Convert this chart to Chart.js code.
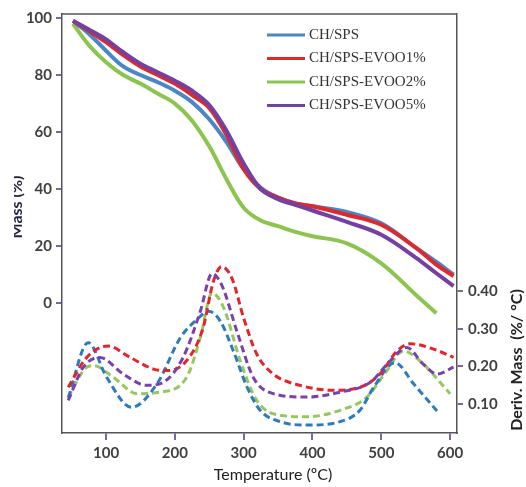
<!DOCTYPE html>
<html>
<head>
<meta charset="utf-8">
<script src="https://cdn.jsdelivr.net/npm/chart.js@4"></script>
<style>
  body { margin: 0; background: #fff; }
</style>
</head>
<body>
<canvas id="tga" width="526" height="487" style="width:526px;height:487px"></canvas>
<script>
// TGA (mass %) curves, read on a common temperature grid
const massTemps = [52, 75, 100, 125, 150, 175, 200, 225, 250, 275, 300, 325, 350, 375, 400, 450, 500, 550, 580, 605];
const massChSps  = [99, 94.5, 88.5, 83, 80, 77.5, 74.5, 70.5, 64.5, 56.5, 47, 40.5, 37, 35, 34, 32, 28, 19.5, 14.5, 10];
const massEvoo1  = [99, 95.5, 91.5, 87, 83, 80, 77, 73, 68.5, 59, 47, 40, 37, 35, 34, 31, 27.5, 19.5, 13.5, 9.5];
const massEvoo2  = [98, 90.5, 84.5, 80, 77, 73.5, 70, 64, 55, 43.5, 33.5, 29, 27, 25, 23.5, 21, 14, 3, -3.5, null];
const massEvoo5  = [99, 96, 92.5, 88, 84, 81, 78, 74.5, 69.5, 60.5, 49, 40, 36.5, 34.5, 32.5, 28.5, 24, 16, 10.5, 6];

// DTG (deriv. mass %/°C) curves
const dtgTempChSps = [45, 74, 101, 137, 174, 208, 232, 249, 266, 285, 305, 324, 353, 392, 440, 469, 489, 520, 547, 581];
const dtgChSps     = [0.117, 0.263, 0.171, 0.092, 0.154, 0.276, 0.324, 0.346, 0.32, 0.241, 0.145, 0.084, 0.054, 0.045, 0.054, 0.084, 0.145, 0.21, 0.154, 0.082];
const dtgTempEvoo1 = [45, 72, 103, 135, 169, 188, 217, 241, 256, 268, 283, 300, 319, 343, 382, 430, 469, 498, 523, 542, 576, 605];
const dtgEvoo1     = [0.145, 0.224, 0.254, 0.224, 0.193, 0.189, 0.215, 0.302, 0.425, 0.464, 0.433, 0.328, 0.233, 0.18, 0.15, 0.137, 0.145, 0.18, 0.241, 0.26, 0.246, 0.224];
const dtgTempEvoo2 = [45, 72, 82, 111, 145, 178, 217, 237, 254, 271, 295, 319, 353, 392, 440, 479, 508, 532, 556, 600];
const dtgEvoo2     = [0.119, 0.198, 0.202, 0.171, 0.128, 0.132, 0.171, 0.276, 0.394, 0.355, 0.215, 0.11, 0.071, 0.067, 0.084, 0.119, 0.189, 0.241, 0.215, 0.128];
const dtgTempEvoo5 = [45, 67, 91, 125, 159, 183, 212, 237, 254, 268, 290, 314, 343, 392, 440, 484, 513, 537, 561, 581, 605];
const dtgEvoo5     = [0.11, 0.198, 0.224, 0.18, 0.15, 0.158, 0.224, 0.346, 0.446, 0.416, 0.294, 0.171, 0.128, 0.119, 0.132, 0.158, 0.215, 0.25, 0.206, 0.18, 0.198];

const tempTicks = [100, 200, 300, 400, 500, 600];
const massTicks = [0, 20, 40, 60, 80, 100];
const derivTicks = [0.1, 0.2, 0.3, 0.4];

const names = ['CH/SPS', 'CH/SPS-EVOO1%', 'CH/SPS-EVOO2%', 'CH/SPS-EVOO5%'];
const massColors = ['#4a86c8', '#dc2a2e', '#8cc450', '#7241a3'];
const dtgColors = ['#2b7bbf', '#e5232b', '#95c85c', '#7b40b0'];

function pts(xs, ys) {
  return xs.map((x, i) => ({ x: x, y: ys[i] })).filter(p => p.y !== null);
}

const massData = [massChSps, massEvoo1, massEvoo2, massEvoo5];
const dtgData = [[dtgTempChSps, dtgChSps], [dtgTempEvoo1, dtgEvoo1], [dtgTempEvoo2, dtgEvoo2], [dtgTempEvoo5, dtgEvoo5]];
const massOrder = [2, 1, 3, 0];

const datasets = [];
massData.forEach((vals, i) => {
  datasets.push({
    label: names[i],
    data: pts(massTemps, vals),
    yAxisID: 'y',
    borderColor: massColors[i],
    borderWidth: 4,
    pointRadius: 0,
    tension: 0.35,
    order: massOrder[i]
  });
});
dtgData.forEach((d, i) => {
  datasets.push({
    label: names[i] + ' DTG',
    data: pts(d[0], d[1]),
    yAxisID: 'y2',
    borderColor: dtgColors[i],
    borderWidth: 3,
    borderDash: [7, 4],
    pointRadius: 0,
    cubicInterpolationMode: 'monotone',
    order: 4 + massOrder[i]
  });
});

const tickFont = { family: 'Lato', size: 15, weight: 'bold' };
const tickMark = { drawOnChartArea: false, drawTicks: true, tickLength: 6, color: '#8064a2', lineWidth: 2 };
const frame = { display: true, color: '#555', width: 1.5 };

// frame top, axis titles and legend
const extras = {
  id: 'extras',
  afterDraw(chart) {
    const ctx = chart.ctx;
    const a = chart.chartArea;
    ctx.save();
    ctx.strokeStyle = '#555';
    ctx.lineWidth = 1.5;
    ctx.beginPath();
    ctx.moveTo(a.left, a.top);
    ctx.lineTo(a.right, a.top);
    ctx.stroke();

    ctx.fillStyle = '#222';
    ctx.textAlign = 'center';
    ctx.font = '16px Lato';
    ctx.textBaseline = 'middle';
    ctx.fillText('Temperature (\u00baC)', 273, 475);

    ctx.textBaseline = 'alphabetic';
    ctx.font = 'bold 16px Lato';
    ctx.save();
    ctx.translate(522, 360);
    ctx.rotate(-Math.PI / 2);
    ctx.fillText('Deriv. Mass  (%/ \u00b0C)', 0, 0);
    ctx.restore();

    ctx.save();
    ctx.beginPath();
    ctx.rect(14, 0, 50, 487);
    ctx.clip();
    ctx.translate(22, 207);
    ctx.rotate(-Math.PI / 2);
    ctx.fillStyle = '#1f1f3f';
    ctx.fillText('Mass (%)', 0, 0);
    ctx.restore();

    ctx.font = '15px "Liberation Serif"';
    ctx.textAlign = 'left';
    ctx.textBaseline = 'middle';
    names.forEach((n, i) => {
      const y = 35 + i * 23.5;
      ctx.strokeStyle = massColors[i];
      ctx.lineWidth = 3;
      ctx.beginPath();
      ctx.moveTo(267, y);
      ctx.lineTo(305, y);
      ctx.stroke();
      ctx.fillStyle = '#333';
      ctx.fillText(n, 309, y);
    });
    ctx.restore();
  }
};

new Chart(document.getElementById('tga'), {
  type: 'line',
  data: { datasets: datasets },
  options: {
    responsive: false,
    animation: false,
    layout: { padding: { top: 10, left: 0, right: 0, bottom: 0 } },
    plugins: { legend: { display: false }, tooltip: { enabled: false } },
    scales: {
      x: {
        type: 'linear',
        min: 36,
        max: 610,
        afterBuildTicks: s => { s.ticks = tempTicks.map(v => ({ value: v })); },
        afterFit: s => { s.height = 54; },
        grid: Object.assign({}, tickMark, { tickLength: 7 }),
        border: frame,
        ticks: { font: tickFont, color: '#404040', padding: 4 }
      },
      y: {
        position: 'left',
        min: -45.5,
        max: 101.4,
        afterBuildTicks: s => { s.ticks = massTicks.map(v => ({ value: v })); },
        afterFit: s => { s.width = 62; },
        grid: tickMark,
        border: frame,
        ticks: { font: tickFont, color: '#404040', padding: 4 }
      },
      y2: {
        position: 'right',
        min: 0.024,
        max: 1.1323,
        afterBuildTicks: s => { s.ticks = derivTicks.map(v => ({ value: v })); },
        afterFit: s => { s.width = 69; },
        grid: tickMark,
        border: frame,
        ticks: { font: tickFont, color: '#404040', padding: 5, callback: v => v.toFixed(2) }
      }
    }
  },
  plugins: [extras]
});
</script>
</body>
</html>
